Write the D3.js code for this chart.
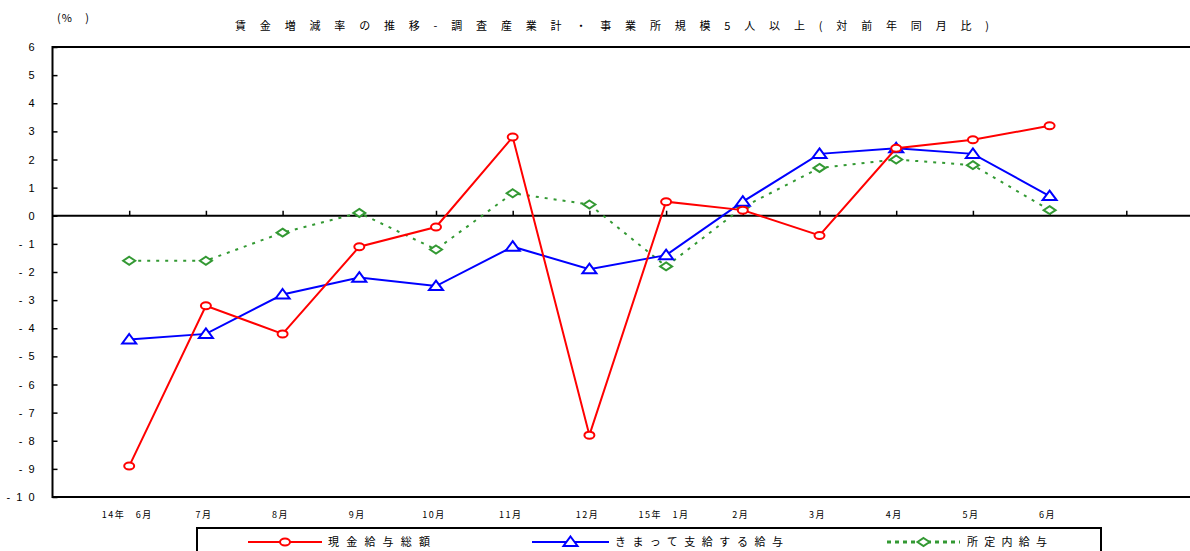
<!DOCTYPE html>
<html><head><meta charset="utf-8">
<script src="https://cdn.jsdelivr.net/npm/d3@7"></script>
<style>
html,body{margin:0;padding:0;background:#fff;}
svg{display:block;}
</style></head>
<body>
<svg id="chart" width="1190" height="551"></svg>
<script>
const months = ["14年　6月","7月","8月","9月","10月","11月","12月","15年　1月","2月","3月","4月","5月","6月"];
const totalCash = [-8.9,-3.2,-4.2,-1.1,-0.4,2.8,-7.8,0.5,0.2,-0.7,2.4,2.7,3.2];
const regular = [-4.4,-4.2,-2.8,-2.2,-2.5,-1.1,-1.9,-1.4,0.5,2.2,2.4,2.2,0.7];
const scheduled = [-1.6,-1.6,-0.6,0.1,-1.2,0.8,0.4,-1.8,0.3,1.7,2.0,1.8,0.2];
const yTicks = [6,5,4,3,2,1,0,-1,-2,-3,-4,-5,-6,-7,-8,-9,-10];
const seriesNames = ["現金給与総額","きまって支給する給与","所定内給与"];
const titleText = "賃金増減率の推移-調査産業計・事業所規模5人以上(対前年同月比)";
const unitText = "(%　)";

const svg = d3.select("#chart");
const jp = "'Noto Sans CJK JP', sans-serif";
const lat = "'Liberation Sans', Arial, sans-serif";

const x = d3.scaleLinear().domain([0,15]).range([52.5,1203]);
const y = d3.scaleLinear().domain([-10,6]).range([497,47]);

// title
svg.append("text").attr("x",57).attr("y",22).attr("font-family",jp).attr("font-size",11)
  .attr("fill","#000").attr("textLength",32).attr("lengthAdjust","spacing").text(unitText);
svg.append("text").attr("x",235).attr("y",30).attr("font-family",jp).attr("font-size",11)
  .attr("fill","#000").attr("textLength",754).attr("lengthAdjust","spacing").text(titleText);

// frame
svg.append("line").attr("x1",x(0)).attr("x2",1190).attr("y1",y(6)).attr("y2",y(6)).attr("stroke","#000").attr("stroke-width",2);
svg.append("line").attr("x1",x(0)).attr("x2",1190).attr("y1",y(-10)).attr("y2",y(-10)).attr("stroke","#000").attr("stroke-width",2);
svg.append("line").attr("x1",x(0)).attr("x2",x(0)).attr("y1",y(6)-1).attr("y2",y(-10)+1).attr("stroke","#000").attr("stroke-width",2);

// y axis
const yAxis = d3.axisRight(y).tickValues(yTicks).tickSize(5).tickFormat("");
const ya = svg.append("g").attr("transform",`translate(${x(0)},0)`).call(yAxis);
ya.select(".domain").remove();
ya.selectAll("line").attr("stroke-width",1.5);
svg.append("g").selectAll("text").data(yTicks).join("text")
  .attr("x",36).attr("y",d=>y(d)+4).attr("text-anchor","end")
  .attr("font-family",lat).attr("font-size",11).attr("fill","#000")
  .attr("letter-spacing",1.5)
  .text(d=> d<0 ? "- " + String(-d).split("").join(" ") : String(d));

// zero line with ticks
svg.append("line").attr("x1",x(0)).attr("x2",1190).attr("y1",y(0)).attr("y2",y(0)).attr("stroke","#000").attr("stroke-width",2);
const xAxis = d3.axisTop(x).tickValues(d3.range(1,15)).tickSize(5).tickFormat("");
const xa = svg.append("g").attr("transform",`translate(0,${y(0)})`).call(xAxis);
xa.select(".domain").remove();
xa.selectAll("line").attr("stroke-width",1.5);

// x labels
svg.append("g").selectAll("text").data(months).join("text")
  .attr("x",(d,i)=>x(i+1)-2).attr("y",518).attr("text-anchor","middle")
  .attr("font-family",jp).attr("font-size",9).attr("fill","#000").attr("letter-spacing",1.5)
  .text(d=>d);

const line = d3.line().x((d,i)=>x(i+1)).y(d=>y(d));

function triPath(){ return "M0,-5.5L7,4L-7,4Z"; }
function diaPath(){ return "M0,-4L6,0L0,4L-6,0Z"; }

// green dotted
svg.append("path").datum(scheduled).attr("d",line).attr("fill","none")
  .attr("stroke","#339933").attr("stroke-width",2).attr("stroke-dasharray","3,6");
svg.append("g").selectAll("path").data(scheduled).join("path")
  .attr("transform",(d,i)=>`translate(${x(i+1)},${y(d)})`).attr("d",diaPath())
  .attr("fill","#fff").attr("stroke","#339933").attr("stroke-width",2);

// blue
svg.append("path").datum(regular).attr("d",line).attr("fill","none")
  .attr("stroke","#0000ff").attr("stroke-width",2);
svg.append("g").selectAll("path").data(regular).join("path")
  .attr("transform",(d,i)=>`translate(${x(i+1)},${y(d)})`).attr("d",triPath())
  .attr("fill","#fff").attr("stroke","#0000ff").attr("stroke-width",2);

// red
svg.append("path").datum(totalCash).attr("d",line).attr("fill","none")
  .attr("stroke","#ff0000").attr("stroke-width",2);
svg.append("g").selectAll("ellipse").data(totalCash).join("ellipse")
  .attr("cx",(d,i)=>x(i+1)).attr("cy",d=>y(d)).attr("rx",5).attr("ry",3.5)
  .attr("fill","#fff").attr("stroke","#ff0000").attr("stroke-width",2);

// legend
svg.append("rect").attr("x",197).attr("y",528).attr("width",904).attr("height",40)
  .attr("fill","#fff").attr("stroke","#000").attr("stroke-width",2);
const ly = 542;
const leg = [
  {x1:248,x2:322,color:"#ff0000",dash:null,tx:328,tw:102,name:seriesNames[0],m:"c"},
  {x1:532,x2:609,color:"#0000ff",dash:null,tx:615,tw:168,name:seriesNames[1],m:"t"},
  {x1:887,x2:960,color:"#339933",dash:"4,4",tx:967,tw:80,name:seriesNames[2],m:"d"}
];
leg.forEach(l=>{
  svg.append("line").attr("x1",l.x1).attr("x2",l.x2).attr("y1",ly).attr("y2",ly)
    .attr("stroke",l.color).attr("stroke-width",l.dash?3:2).attr("stroke-dasharray",l.dash);
  const cx=(l.x1+l.x2)/2;
  if(l.m==="c") svg.append("ellipse").attr("cx",cx).attr("cy",ly).attr("rx",5).attr("ry",3.5).attr("fill","#fff").attr("stroke",l.color).attr("stroke-width",2);
  if(l.m==="t") svg.append("path").attr("transform",`translate(${cx},${ly})`).attr("d",triPath()).attr("fill","#fff").attr("stroke",l.color).attr("stroke-width",2);
  if(l.m==="d") svg.append("path").attr("transform",`translate(${cx},${ly})`).attr("d",diaPath()).attr("fill","#fff").attr("stroke",l.color).attr("stroke-width",2);
  svg.append("text").attr("x",l.tx).attr("y",ly+4).attr("font-family",jp).attr("font-size",11)
    .attr("fill","#000").attr("textLength",l.tw).attr("lengthAdjust","spacing").text(l.name);
});
</script>
</body></html>
